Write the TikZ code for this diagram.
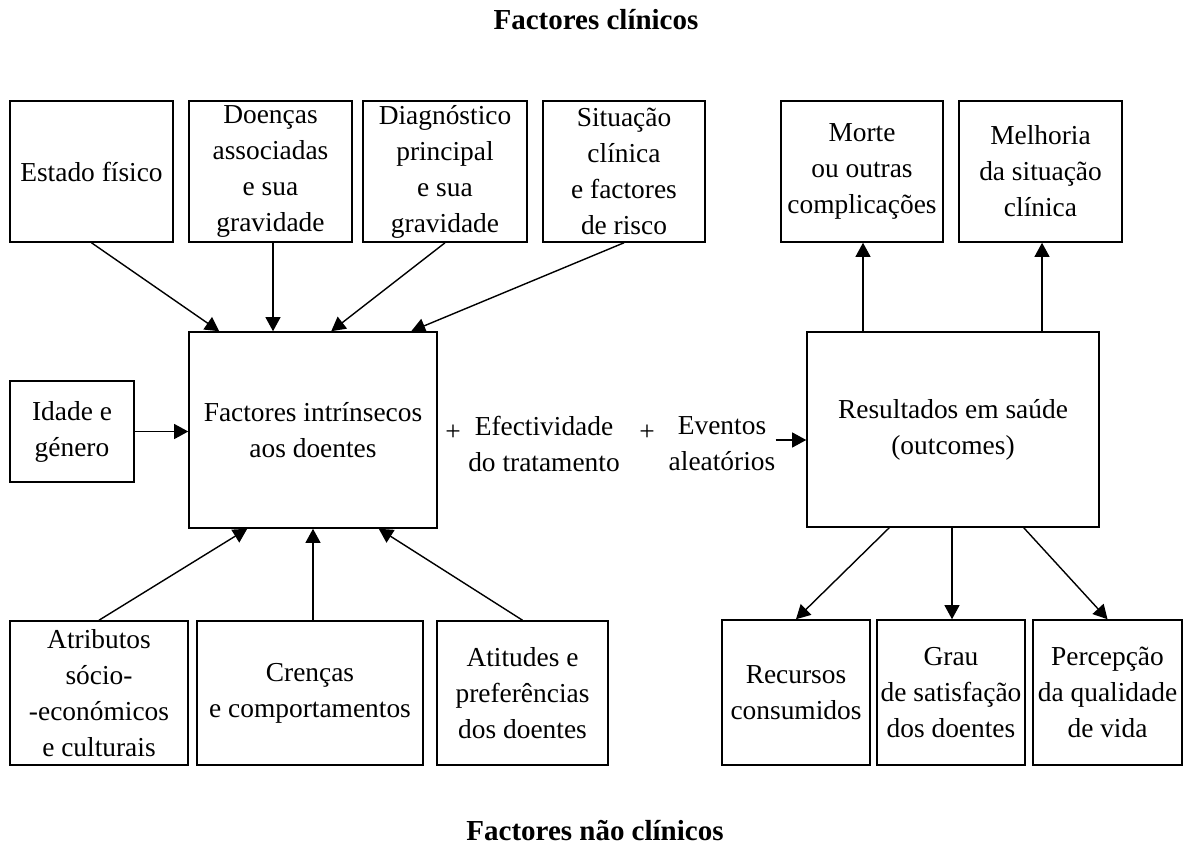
\documentclass[tikz,border=0pt]{standalone}
\usepackage{fontspec}
\setmainfont{Liberation Serif}
\usetikzlibrary{arrows.meta,calc}
\begin{document}
\begin{tikzpicture}[x=0.02cm,y=-0.02cm,
  box/.style={draw, line width=0.9pt, inner sep=0pt, align=center, font=\fontsize{15.6}{20.5}\selectfont},
  arr/.style={line width=0.8pt, -{Triangle[length=8pt,width=8.5pt]}},
  txt/.style={align=center, inner sep=0pt, font=\fontsize{15.6}{20.5}\selectfont},
  ttl/.style={inner sep=0pt, font=\fontsize{16.5}{20}\selectfont\bfseries}]
\useasboundingbox (0,0) rectangle (1186,848);

% titles
\node[ttl] (t1) at (596,20) {Factores clínicos};
\node[ttl] (t2) at (595,831) {Factores não clínicos};

% top row
\node[box, minimum width=3.26cm, minimum height=2.82cm] (estado) at (91.5,171.5) {Estado físico};
\node[box, minimum width=3.26cm, minimum height=2.82cm] (doencas) at (270.5,171.5) {Doenças\\associadas\\e sua\\gravidade};
\node[box, minimum width=3.28cm, minimum height=2.82cm] (diag) at (445,171.5) {Diagnóstico\\principal\\e sua\\gravidade};
\node[box, minimum width=3.24cm, minimum height=2.82cm] (sit) at (624,171.5) {Situação\\clínica\\e factores\\de risco};
\node[box, minimum width=3.24cm, minimum height=2.82cm] (morte) at (862,171.5) {Morte\\ou outras\\complicações};
\node[box, minimum width=3.26cm, minimum height=2.82cm] (melh) at (1040.5,171.5) {Melhoria\\da situação\\clínica};

% middle row
\node[box, minimum width=2.48cm, minimum height=2.02cm] (idade) at (72,431.5) {Idade e\\género};
\node[box, minimum width=4.96cm, minimum height=3.92cm] (fact) at (313,430) {Factores intrínsecos\\aos doentes};
\node[txt] (plus1) at (453,433) {+};
\node[txt] (efect) at (544,444) {Efectividade\\do tratamento};
\node[txt] (plus2) at (647,433) {+};
\node[txt] (event) at (722,444) {Eventos\\aleatórios};
\node[box, minimum width=5.84cm, minimum height=3.90cm] (result) at (953,429.5) {Resultados em saúde\\(outcomes)};

% bottom row
\node[box, minimum width=3.56cm, minimum height=2.88cm] (atrib) at (99,693) {Atributos\\sócio-\\-económicos\\e culturais};
\node[box, minimum width=4.52cm, minimum height=2.88cm] (cren) at (310,693) {Crenças\\e comportamentos};
\node[box, minimum width=3.42cm, minimum height=2.88cm] (atit) at (522.5,693) {Atitudes e\\preferências\\dos doentes};
\node[box, minimum width=2.96cm, minimum height=2.90cm] (recur) at (796,692.5) {Recursos\\consumidos};
\node[box, minimum width=2.96cm, minimum height=2.90cm] (grau) at (951,692.5) {Grau\\de satisfação\\dos doentes};
\node[box, minimum width=2.98cm, minimum height=2.90cm] (perc) at (1107.5,692.5) {Percepção\\da qualidade\\de vida};

% connectors into Factores
\draw[arr] (estado.south) -- ($(fact.north west)+(31,0)$);
\draw[arr] (doencas.south -| 273,0) -- (fact.north -| 273,0);
\draw[arr] (diag.south) -- ($(fact.north west)+(143,0)$);
\draw[arr] (sit.south) -- ($(fact.north west)+(223,0)$);
\draw[arr] (idade.east) -- (idade.east -| fact.west);
\draw[arr] (atrib.north) -- ($(fact.south west)+(59,0)$);
\draw[arr] (fact.south |- cren.north) -- (fact.south);
\draw[arr] (atit.north) -- ($(fact.south east)+(-59,0)$);

% to Resultados
\draw[arr] ($(event.east)+(0,-4)$) -- ($(event.east -| result.west)+(0,-4)$);

% from Resultados
\draw[arr] (result.north -| 863,0) -- (morte.south -| 863,0);
\draw[arr] (result.north -| 1042,0) -- (melh.south -| 1042,0);
\draw[arr] ($(result.south west)+(83,0)$) -- (recur.north);
\draw[arr] (result.south -| 952,0) -- (grau.north -| 952,0);
\draw[arr] ($(result.south east)+(-76,0)$) -- (perc.north);
\end{tikzpicture}
\end{document}
